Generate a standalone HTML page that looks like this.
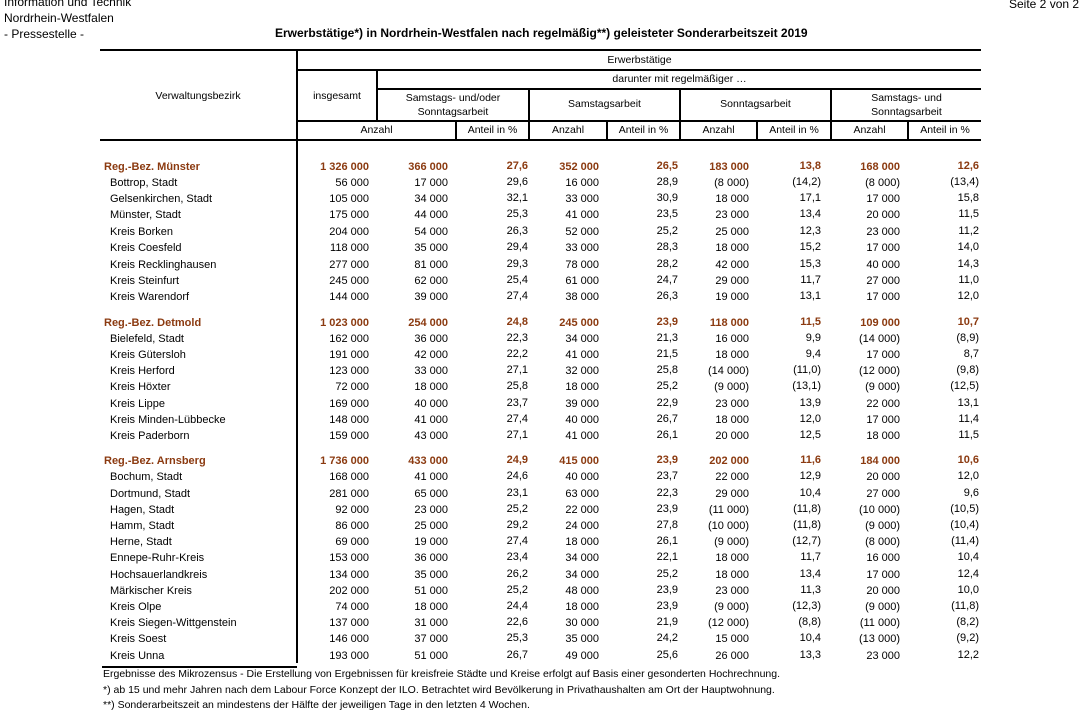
<!DOCTYPE html>
<html><head><meta charset="utf-8"><style>
body{margin:0;width:1079px;height:703px;overflow:hidden;background:#fff;font-family:"Liberation Sans",Arial,sans-serif;font-size:11px;color:#000;position:relative}
.a{position:absolute;white-space:nowrap}
.h{position:absolute;background:#000}
.r{position:absolute;left:0;width:1079px;height:14px;line-height:14px}
.r span{position:absolute;text-align:right;top:0}
.r .n{left:110px}
.g{color:#8b3a10;font-weight:bold}
.g .n{left:104px}
.c1{right:710px}.c2{right:631px}.c3{right:551px;top:-1px!important}.c4{right:480px}.c5{right:401px;top:-1px!important}.c6{right:330px}.c7{right:258px;top:-1px!important}.c8{right:179px}.c9{right:100px;top:-1px!important}
.hc{position:absolute;text-align:center;font-size:10.5px;line-height:14px}
#rows{position:absolute;left:0;top:2px;width:1079px;height:700px}
</style></head><body>
<div class="a" style="left:4px;top:-5px;font-size:12px">Information und Technik</div>
<div class="a" style="left:4px;top:11px;font-size:12px">Nordrhein-Westfalen</div>
<div class="a" style="left:4px;top:27px;font-size:12px">- Pressestelle -</div>
<div class="a" style="left:1009px;top:-3px;font-size:12px">Seite 2 von 2</div>
<div class="a" style="left:275px;top:26px;font-size:12px;font-weight:bold">Erwerbstätige*) in Nordrhein-Westfalen nach regelmäßig**) geleisteter Sonderarbeitszeit 2019</div>

<div class="h" style="left:100px;top:49px;width:881px;height:2px"></div>
<div class="h" style="left:296px;top:49px;width:2px;height:614px"></div>
<div class="h" style="left:297px;top:69px;width:684px;height:2px"></div>
<div class="h" style="left:377px;top:88px;width:604px;height:2px"></div>
<div class="h" style="left:297px;top:120px;width:684px;height:2px"></div>
<div class="h" style="left:100px;top:139px;width:881px;height:2px"></div>
<div class="h" style="left:376px;top:70px;width:2px;height:51px"></div>
<div class="h" style="left:455px;top:121px;width:2px;height:19px"></div>
<div class="h" style="left:528px;top:89px;width:2px;height:51px"></div>
<div class="h" style="left:606px;top:121px;width:2px;height:19px"></div>
<div class="h" style="left:679px;top:89px;width:2px;height:51px"></div>
<div class="h" style="left:756px;top:121px;width:2px;height:19px"></div>
<div class="h" style="left:830px;top:89px;width:2px;height:51px"></div>
<div class="h" style="left:907px;top:121px;width:2px;height:19px"></div>
<div class="h" style="left:102px;top:666px;width:195px;height:2px"></div>

<div class="hc" style="left:100px;width:196px;top:89px">Verwaltungsbezirk</div>
<div class="hc" style="left:298px;width:683px;top:53px">Erwerbstätige</div>
<div class="hc" style="left:378px;width:603px;top:72px">darunter mit regelmäßiger …</div>
<div class="hc" style="left:298px;width:78px;top:89px">insgesamt</div>
<div class="hc" style="left:378px;width:150px;top:91px">Samstags- und/oder<br>Sonntagsarbeit</div>
<div class="hc" style="left:530px;width:149px;top:97px">Samstagsarbeit</div>
<div class="hc" style="left:681px;width:149px;top:97px">Sonntagsarbeit</div>
<div class="hc" style="left:832px;width:149px;top:91px">Samstags- und<br>Sonntagsarbeit</div>
<div class="hc" style="left:298px;width:157px;top:123px">Anzahl</div>
<div class="hc" style="left:457px;width:71px;top:123px">Anteil in %</div>
<div class="hc" style="left:530px;width:76px;top:123px">Anzahl</div>
<div class="hc" style="left:608px;width:71px;top:123px">Anteil in %</div>
<div class="hc" style="left:681px;width:75px;top:123px">Anzahl</div>
<div class="hc" style="left:758px;width:72px;top:123px">Anteil in %</div>
<div class="hc" style="left:832px;width:75px;top:123px">Anzahl</div>
<div class="hc" style="left:909px;width:72px;top:123px">Anteil in %</div>

<div id="rows">
<div class="r g" style="top:158px"><span class="n">Reg.-Bez. Münster</span><span class="c1">1 326 000</span><span class="c2">366 000</span><span class="c3">27,6</span><span class="c4">352 000</span><span class="c5">26,5</span><span class="c6">183 000</span><span class="c7">13,8</span><span class="c8">168 000</span><span class="c9">12,6</span></div>
<div class="r" style="top:174px"><span class="n">Bottrop, Stadt</span><span class="c1">56 000</span><span class="c2">17 000</span><span class="c3">29,6</span><span class="c4">16 000</span><span class="c5">28,9</span><span class="c6">(8 000)</span><span class="c7">(14,2)</span><span class="c8">(8 000)</span><span class="c9">(13,4)</span></div>
<div class="r" style="top:190px"><span class="n">Gelsenkirchen, Stadt</span><span class="c1">105 000</span><span class="c2">34 000</span><span class="c3">32,1</span><span class="c4">33 000</span><span class="c5">30,9</span><span class="c6">18 000</span><span class="c7">17,1</span><span class="c8">17 000</span><span class="c9">15,8</span></div>
<div class="r" style="top:206px"><span class="n">Münster, Stadt</span><span class="c1">175 000</span><span class="c2">44 000</span><span class="c3">25,3</span><span class="c4">41 000</span><span class="c5">23,5</span><span class="c6">23 000</span><span class="c7">13,4</span><span class="c8">20 000</span><span class="c9">11,5</span></div>
<div class="r" style="top:223px"><span class="n">Kreis Borken</span><span class="c1">204 000</span><span class="c2">54 000</span><span class="c3">26,3</span><span class="c4">52 000</span><span class="c5">25,2</span><span class="c6">25 000</span><span class="c7">12,3</span><span class="c8">23 000</span><span class="c9">11,2</span></div>
<div class="r" style="top:239px"><span class="n">Kreis Coesfeld</span><span class="c1">118 000</span><span class="c2">35 000</span><span class="c3">29,4</span><span class="c4">33 000</span><span class="c5">28,3</span><span class="c6">18 000</span><span class="c7">15,2</span><span class="c8">17 000</span><span class="c9">14,0</span></div>
<div class="r" style="top:256px"><span class="n">Kreis Recklinghausen</span><span class="c1">277 000</span><span class="c2">81 000</span><span class="c3">29,3</span><span class="c4">78 000</span><span class="c5">28,2</span><span class="c6">42 000</span><span class="c7">15,3</span><span class="c8">40 000</span><span class="c9">14,3</span></div>
<div class="r" style="top:272px"><span class="n">Kreis Steinfurt</span><span class="c1">245 000</span><span class="c2">62 000</span><span class="c3">25,4</span><span class="c4">61 000</span><span class="c5">24,7</span><span class="c6">29 000</span><span class="c7">11,7</span><span class="c8">27 000</span><span class="c9">11,0</span></div>
<div class="r" style="top:288px"><span class="n">Kreis Warendorf</span><span class="c1">144 000</span><span class="c2">39 000</span><span class="c3">27,4</span><span class="c4">38 000</span><span class="c5">26,3</span><span class="c6">19 000</span><span class="c7">13,1</span><span class="c8">17 000</span><span class="c9">12,0</span></div>

<div class="r g" style="top:314px"><span class="n">Reg.-Bez. Detmold</span><span class="c1">1 023 000</span><span class="c2">254 000</span><span class="c3">24,8</span><span class="c4">245 000</span><span class="c5">23,9</span><span class="c6">118 000</span><span class="c7">11,5</span><span class="c8">109 000</span><span class="c9">10,7</span></div>
<div class="r" style="top:330px"><span class="n">Bielefeld, Stadt</span><span class="c1">162 000</span><span class="c2">36 000</span><span class="c3">22,3</span><span class="c4">34 000</span><span class="c5">21,3</span><span class="c6">16 000</span><span class="c7">9,9</span><span class="c8">(14 000)</span><span class="c9">(8,9)</span></div>
<div class="r" style="top:346px"><span class="n">Kreis Gütersloh</span><span class="c1">191 000</span><span class="c2">42 000</span><span class="c3">22,2</span><span class="c4">41 000</span><span class="c5">21,5</span><span class="c6">18 000</span><span class="c7">9,4</span><span class="c8">17 000</span><span class="c9">8,7</span></div>
<div class="r" style="top:362px"><span class="n">Kreis Herford</span><span class="c1">123 000</span><span class="c2">33 000</span><span class="c3">27,1</span><span class="c4">32 000</span><span class="c5">25,8</span><span class="c6">(14 000)</span><span class="c7">(11,0)</span><span class="c8">(12 000)</span><span class="c9">(9,8)</span></div>
<div class="r" style="top:378px"><span class="n">Kreis Höxter</span><span class="c1">72 000</span><span class="c2">18 000</span><span class="c3">25,8</span><span class="c4">18 000</span><span class="c5">25,2</span><span class="c6">(9 000)</span><span class="c7">(13,1)</span><span class="c8">(9 000)</span><span class="c9">(12,5)</span></div>
<div class="r" style="top:395px"><span class="n">Kreis Lippe</span><span class="c1">169 000</span><span class="c2">40 000</span><span class="c3">23,7</span><span class="c4">39 000</span><span class="c5">22,9</span><span class="c6">23 000</span><span class="c7">13,9</span><span class="c8">22 000</span><span class="c9">13,1</span></div>
<div class="r" style="top:411px"><span class="n">Kreis Minden-Lübbecke</span><span class="c1">148 000</span><span class="c2">41 000</span><span class="c3">27,4</span><span class="c4">40 000</span><span class="c5">26,7</span><span class="c6">18 000</span><span class="c7">12,0</span><span class="c8">17 000</span><span class="c9">11,4</span></div>
<div class="r" style="top:427px"><span class="n">Kreis Paderborn</span><span class="c1">159 000</span><span class="c2">43 000</span><span class="c3">27,1</span><span class="c4">41 000</span><span class="c5">26,1</span><span class="c6">20 000</span><span class="c7">12,5</span><span class="c8">18 000</span><span class="c9">11,5</span></div>

<div class="r g" style="top:452px"><span class="n">Reg.-Bez. Arnsberg</span><span class="c1">1 736 000</span><span class="c2">433 000</span><span class="c3">24,9</span><span class="c4">415 000</span><span class="c5">23,9</span><span class="c6">202 000</span><span class="c7">11,6</span><span class="c8">184 000</span><span class="c9">10,6</span></div>
<div class="r" style="top:468px"><span class="n">Bochum, Stadt</span><span class="c1">168 000</span><span class="c2">41 000</span><span class="c3">24,6</span><span class="c4">40 000</span><span class="c5">23,7</span><span class="c6">22 000</span><span class="c7">12,9</span><span class="c8">20 000</span><span class="c9">12,0</span></div>
<div class="r" style="top:485px"><span class="n">Dortmund, Stadt</span><span class="c1">281 000</span><span class="c2">65 000</span><span class="c3">23,1</span><span class="c4">63 000</span><span class="c5">22,3</span><span class="c6">29 000</span><span class="c7">10,4</span><span class="c8">27 000</span><span class="c9">9,6</span></div>
<div class="r" style="top:501px"><span class="n">Hagen, Stadt</span><span class="c1">92 000</span><span class="c2">23 000</span><span class="c3">25,2</span><span class="c4">22 000</span><span class="c5">23,9</span><span class="c6">(11 000)</span><span class="c7">(11,8)</span><span class="c8">(10 000)</span><span class="c9">(10,5)</span></div>
<div class="r" style="top:517px"><span class="n">Hamm, Stadt</span><span class="c1">86 000</span><span class="c2">25 000</span><span class="c3">29,2</span><span class="c4">24 000</span><span class="c5">27,8</span><span class="c6">(10 000)</span><span class="c7">(11,8)</span><span class="c8">(9 000)</span><span class="c9">(10,4)</span></div>
<div class="r" style="top:533px"><span class="n">Herne, Stadt</span><span class="c1">69 000</span><span class="c2">19 000</span><span class="c3">27,4</span><span class="c4">18 000</span><span class="c5">26,1</span><span class="c6">(9 000)</span><span class="c7">(12,7)</span><span class="c8">(8 000)</span><span class="c9">(11,4)</span></div>
<div class="r" style="top:549px"><span class="n">Ennepe-Ruhr-Kreis</span><span class="c1">153 000</span><span class="c2">36 000</span><span class="c3">23,4</span><span class="c4">34 000</span><span class="c5">22,1</span><span class="c6">18 000</span><span class="c7">11,7</span><span class="c8">16 000</span><span class="c9">10,4</span></div>
<div class="r" style="top:566px"><span class="n">Hochsauerlandkreis</span><span class="c1">134 000</span><span class="c2">35 000</span><span class="c3">26,2</span><span class="c4">34 000</span><span class="c5">25,2</span><span class="c6">18 000</span><span class="c7">13,4</span><span class="c8">17 000</span><span class="c9">12,4</span></div>
<div class="r" style="top:582px"><span class="n">Märkischer Kreis</span><span class="c1">202 000</span><span class="c2">51 000</span><span class="c3">25,2</span><span class="c4">48 000</span><span class="c5">23,9</span><span class="c6">23 000</span><span class="c7">11,3</span><span class="c8">20 000</span><span class="c9">10,0</span></div>
<div class="r" style="top:598px"><span class="n">Kreis Olpe</span><span class="c1">74 000</span><span class="c2">18 000</span><span class="c3">24,4</span><span class="c4">18 000</span><span class="c5">23,9</span><span class="c6">(9 000)</span><span class="c7">(12,3)</span><span class="c8">(9 000)</span><span class="c9">(11,8)</span></div>
<div class="r" style="top:614px"><span class="n">Kreis Siegen-Wittgenstein</span><span class="c1">137 000</span><span class="c2">31 000</span><span class="c3">22,6</span><span class="c4">30 000</span><span class="c5">21,9</span><span class="c6">(12 000)</span><span class="c7">(8,8)</span><span class="c8">(11 000)</span><span class="c9">(8,2)</span></div>
<div class="r" style="top:630px"><span class="n">Kreis Soest</span><span class="c1">146 000</span><span class="c2">37 000</span><span class="c3">25,3</span><span class="c4">35 000</span><span class="c5">24,2</span><span class="c6">15 000</span><span class="c7">10,4</span><span class="c8">(13 000)</span><span class="c9">(9,2)</span></div>
<div class="r" style="top:647px"><span class="n">Kreis Unna</span><span class="c1">193 000</span><span class="c2">51 000</span><span class="c3">26,7</span><span class="c4">49 000</span><span class="c5">25,6</span><span class="c6">26 000</span><span class="c7">13,3</span><span class="c8">23 000</span><span class="c9">12,2</span></div>
</div>

<div class="a" style="left:103px;top:668px;font-size:10.5px">Ergebnisse des Mikrozensus - Die Erstellung von Ergebnissen für kreisfreie Städte und Kreise erfolgt auf Basis einer gesonderten Hochrechnung.</div>
<div class="a" style="left:103px;top:684px;font-size:10.5px">*) ab 15 und mehr Jahren nach dem Labour Force Konzept der ILO. Betrachtet wird Bevölkerung in Privathaushalten am Ort der Hauptwohnung.</div>
<div class="a" style="left:103px;top:699px;font-size:10.5px">**) Sonderarbeitszeit an mindestens der Hälfte der jeweiligen Tage in den letzten 4 Wochen.</div>
</body></html>
